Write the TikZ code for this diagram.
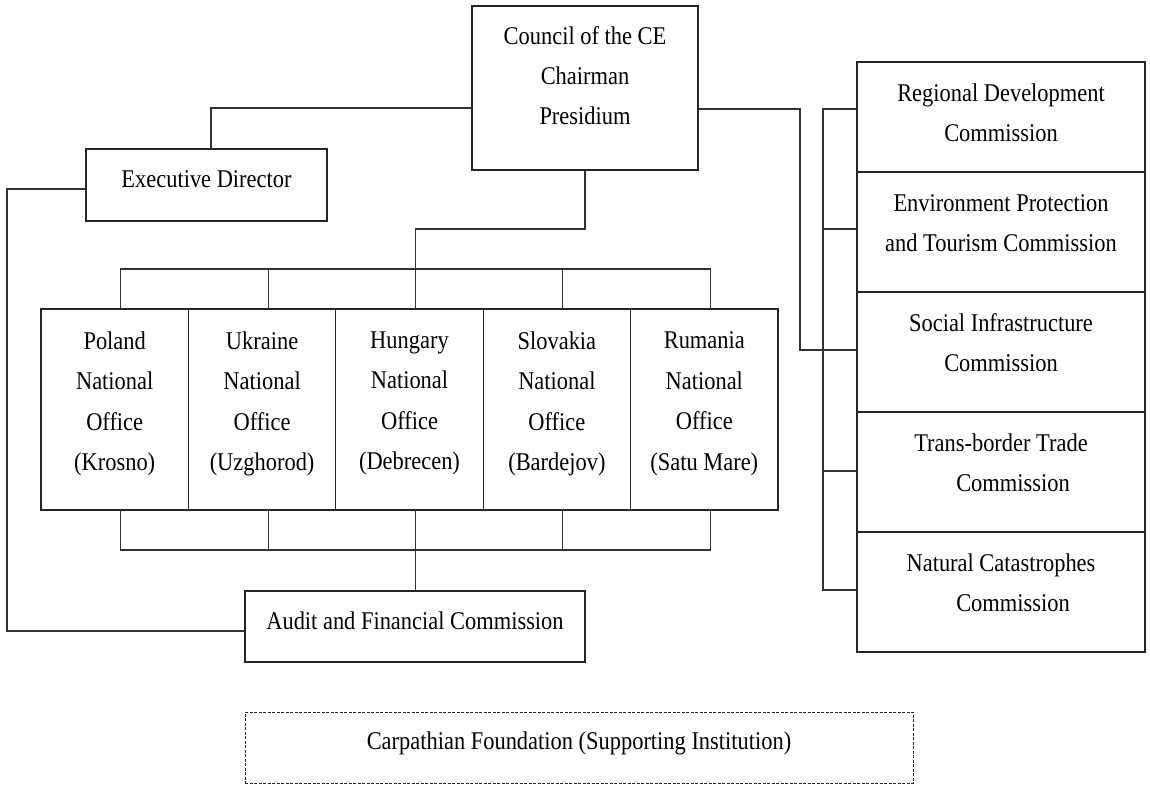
\documentclass[tikz,border=0pt]{standalone}
\usepackage{fontspec}
\setmainfont{Liberation Serif}[FakeStretch=0.88]
\usetikzlibrary{calc}
\begin{document}
\begin{tikzpicture}[x=1pt,y=-1pt,
  box/.style={draw=black!85, line width=1.2pt, inner sep=0pt, outer sep=0pt},
  dbox/.style={draw=black!85, line width=0.8pt, dash pattern=on 3pt off 1.5pt, inner sep=0pt, outer sep=0pt},
  txt/.style={anchor=north, align=center, inner sep=0pt, font=\fontsize{25.5}{40}\selectfont},
  ntxt/.style={anchor=north, align=center, inner sep=0pt, font=\fontsize{25.5}{40.5}\selectfont},
  conn/.style={draw=black!80, line width=1.1pt},
  nat/.style={box, minimum width=147.4pt, minimum height=201pt},
  com/.style={box, minimum width=288pt, minimum height=120pt}]
\useasboundingbox (0,0) rectangle (1150,784);

% boxes
\node[box, minimum width=226pt, minimum height=164pt] (council) at (585,88) {};
\node[box, minimum width=241pt, minimum height=72pt] (exec) at (206.5,185) {};
\node[nat] (pl) at (114.7,409.5) {};
\node[nat] (ua) at (262.1,409.5) {};
\node[nat] (hu) at (409.5,409.5) {};
\node[nat] (sk) at (556.9,409.5) {};
\node[nat] (ro) at (704.3,409.5) {};
\node[box, minimum width=340pt, minimum height=71pt] (audit) at (415,626.5) {};
\node[box, minimum width=288pt, minimum height=110pt] (rd) at (1001,117) {};
\node[com] (ep) at (1001,232) {};
\node[com] (so) at (1001,352) {};
\node[com] (tr) at (1001,472) {};
\node[com] (nc) at (1001,592) {};
\node[dbox, minimum width=668pt, minimum height=71pt] (carp) at (579,747.5) {};

% texts
\node[txt] (councilt) at (585,26.5) {Council of the CE\\Chairman\\Presidium};
\node[txt] (exect) at (206.5,170.5) {Executive Director};
\node[ntxt] (plt) at (114.7,331.5) {Poland\\National\\Office\\(Krosno)};
\node[ntxt] (uat) at (262.1,331.5) {Ukraine\\National\\Office\\(Uzghorod)};
\node[ntxt] (hut) at (409.5,331.5) {Hungary\\National\\Office\\(Debrecen)};
\node[ntxt] (skt) at (556.9,331.5) {Slovakia\\National\\Office\\(Bardejov)};
\node[ntxt] (rot) at (704.3,331.5) {Rumania\\National\\Office\\(Satu Mare)};
\node[txt] (auditt) at (415,612) {Audit and Financial Commission};
\node[txt] (rdt) at (1001,83.5) {Regional Development\\Commission};
\node[txt] (ept) at (1001,194.5) {Environment Protection\\and Tourism Commission};
\node[txt] (sot) at (1001,313.5) {Social Infrastructure\\Commission};
\node[txt] (trt) at (1001,433.5) {Trans-border Trade\\\hspace*{24pt}Commission};
\node[txt] (nct) at (1001,553.5) {Natural Catastrophes\\\hspace*{24pt}Commission};
\node[txt] (carpt) at (579,731.5) {Carpathian Foundation (Supporting Institution)};

% connectors
\draw[conn] ([yshift=-20pt]council.west) -| ([xshift=4.5pt]exec.north);
\draw[conn] ([yshift=-4pt]exec.west) -- ++(-79,0) |- ([yshift=-4.5pt]audit.west);
\draw[conn] (council.south) -- ++(0,59) -| ([xshift=6pt]hu.north);
\draw[conn] ([xshift=6pt]pl.north) -- ++(0,-40) -| ([xshift=6pt]ro.north);
\draw[conn] ([xshift=6pt]ua.north) -- ++(0,-40);
\draw[conn] ([xshift=6pt]sk.north) -- ++(0,-40);
\draw[conn] ([xshift=6pt]pl.south) -- ++(0,40) -| ([xshift=6pt]ro.south);
\draw[conn] ([xshift=6pt]ua.south) -- ++(0,40);
\draw[conn] ([xshift=6pt]sk.south) -- ++(0,40);
\draw[conn] ([xshift=6pt]hu.south) -- ([xshift=6pt]hu.south |- audit.north);
\draw[conn] ([yshift=-21pt]council.east) -- ++(102,0) |- ([yshift=2pt]so.west);
\draw[conn] ([yshift=8pt]rd.west) -- ++(-34,0) |- ([yshift=2pt]nc.west);
\draw[conn] ([yshift=3pt]ep.west) -- ++(-34,0);
\draw[conn] ([yshift=1pt]tr.west) -- ++(-34,0);
\end{tikzpicture}
\end{document}
